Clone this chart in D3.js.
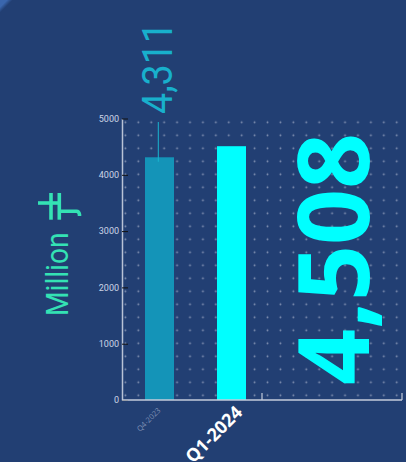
<!DOCTYPE html>
<html><head><meta charset="utf-8">
<script src="https://cdn.jsdelivr.net/npm/d3@7"></script>
<style>
html,body{margin:0;padding:0;}
body{width:406px;height:462px;overflow:hidden;background:linear-gradient(135deg,#3a66ad 0,#3a66ad 5px,#223f73 9px);}
svg{display:block}
</style></head><body><div id="chart"></div>
<script>
const categories = ["Q4-2023", "Q1-2024"];
const values = [4311, 4508];
const valueLabels = ["4,311", "4,508"];
const yTicks = [0, 1000, 2000, 3000, 4000, 5000];
const unitLabel = "Million";

const W = 406, H = 462;
const svg = d3.select("#chart").append("svg").attr("width", W).attr("height", H);

const y = d3.scaleLinear().domain([0, 5000]).range([400, 118.5]);
const x = d3.scaleBand().domain(categories).range([130.6, 260.4]).paddingInner(43/72).paddingOuter(0.2);
const xAxisBand = d3.scaleBand().domain(categories).range([122, 402]);

// dotted grid
const defs = svg.append("defs");
const pat = defs.append("pattern").attr("id","dots").attr("patternUnits","userSpaceOnUse")
  .attr("width",12.92).attr("height",13).attr("x",125.4-6.46).attr("y",122.3-6.5);
pat.append("circle").attr("cx",6.46).attr("cy",6.5).attr("r",0.95).attr("fill","#8392b2");
svg.append("rect").attr("x",123).attr("y",116).attr("width",280).attr("height",283).attr("fill","url(#dots)");

// bars
const colors = ["#1494b8", "#00ffff"];
svg.selectAll("rect.bar").data(values).join("rect").attr("class","bar")
  .attr("x",(d,i)=>x(categories[i])).attr("width",x.bandwidth())
  .attr("y",d=>y(d)).attr("height",d=>y(0)-y(d)).attr("fill",(d,i)=>colors[i]);

// leader line for first bar
svg.append("line")
  .attr("x1",x(categories[0])+x.bandwidth()/2-1.2).attr("x2",x(categories[0])+x.bandwidth()/2-1.2)
  .attr("y1",y(5000)+3.5).attr("y2",y(values[0])+4.5)
  .attr("stroke","#19b4cf").attr("stroke-width",1);

// y axis
const yAxis = svg.append("g").attr("transform","translate(122,0)")
  .call(d3.axisLeft(y).tickValues(yTicks).tickFormat(d3.format("d")).tickSizeInner(-6).tickSizeOuter(0).tickPadding(3));
yAxis.select(".domain").attr("stroke","#b9c3d6").attr("stroke-width",1.5);
yAxis.selectAll(".tick line").attr("stroke","#111").attr("stroke-width",1);
yAxis.selectAll(".tick text").attr("fill","#ccd5e7").style("font-family","Roboto, sans-serif").style("font-size","9px");

// x axis
svg.append("line").attr("x1",122).attr("x2",402).attr("y1",y(0)).attr("y2",y(0))
  .attr("stroke","#c4ccdb").attr("stroke-width",1.5);
svg.selectAll("line.xtick").data(categories).join("line").attr("class","xtick")
  .attr("x1",d=>xAxisBand(d)+xAxisBand.bandwidth()).attr("x2",d=>xAxisBand(d)+xAxisBand.bandwidth())
  .attr("y1",y(0)).attr("y2",y(0)-7).attr("stroke","#c4ccdb").attr("stroke-width",1.2);

// x labels
const xLabelStyle = [
  {dx:1.5, dy:11, size:"7.5px", weight:400, fill:"#7f90b3"},
  {dx:12, dy:13.5, size:"18px", weight:700, fill:"#ffffff"}
];
svg.selectAll("text.xlab").data(categories).join("text").attr("class","xlab")
  .attr("transform",(d,i)=>`translate(${x(d)+x.bandwidth()/2+xLabelStyle[i].dx},${y(0)+xLabelStyle[i].dy}) rotate(-45)`)
  .attr("text-anchor","end")
  .style("font-family","'Open Sans', sans-serif")
  .style("font-size",(d,i)=>xLabelStyle[i].size).style("font-weight",(d,i)=>xLabelStyle[i].weight)
  .attr("fill",(d,i)=>xLabelStyle[i].fill).text(d=>d);

// value labels
svg.append("text")
  .attr("transform",`translate(${x(categories[0])+x.bandwidth()/2+12.5},114) rotate(-90)`)
  .attr("text-anchor","start").attr("textLength",92).attr("lengthAdjust","spacingAndGlyphs")
  .style("font-family","Roboto, sans-serif").style("font-weight",400).style("font-size","42px")
  .attr("fill","#18b0cc").text(valueLabels[0]);
svg.append("text")
  .attr("transform",`translate(369,385) rotate(-90)`)
  .attr("text-anchor","start")
  .style("font-family","'Open Sans', sans-serif").style("font-weight",700).style("font-size","98px")
  .attr("fill","#00ffff").text(valueLabels[1]);

// unit label (rotated) with currency glyph
const unitColor = "#34e2b4";
const unit = svg.append("g").attr("transform","translate(68,316) rotate(-90)");
unit.append("text").attr("transform","scale(0.88,1)")
  .attr("text-anchor","start")
  .style("font-family","Roboto, sans-serif").style("font-size","32px")
  .attr("fill",unitColor).text(unitLabel);
// currency sign glyph (local coords: u along reading direction, w downward from baseline)
const sym = unit.append("g").attr("fill","none").attr("stroke",unitColor).attr("stroke-width",3.6).attr("stroke-linecap","butt");
sym.append("path").attr("d","M113,-30 L113,-7.5");
sym.append("path").attr("d","M104.7,-7.5 L104.7,8.5 Q104.7,11 101.5,11.5 L100,11.5");
sym.append("path").attr("d","M123,-17 L96.3,-17");
sym.append("path").attr("d","M123,-8.7 L96.3,-8.7");
</script></body></html>
